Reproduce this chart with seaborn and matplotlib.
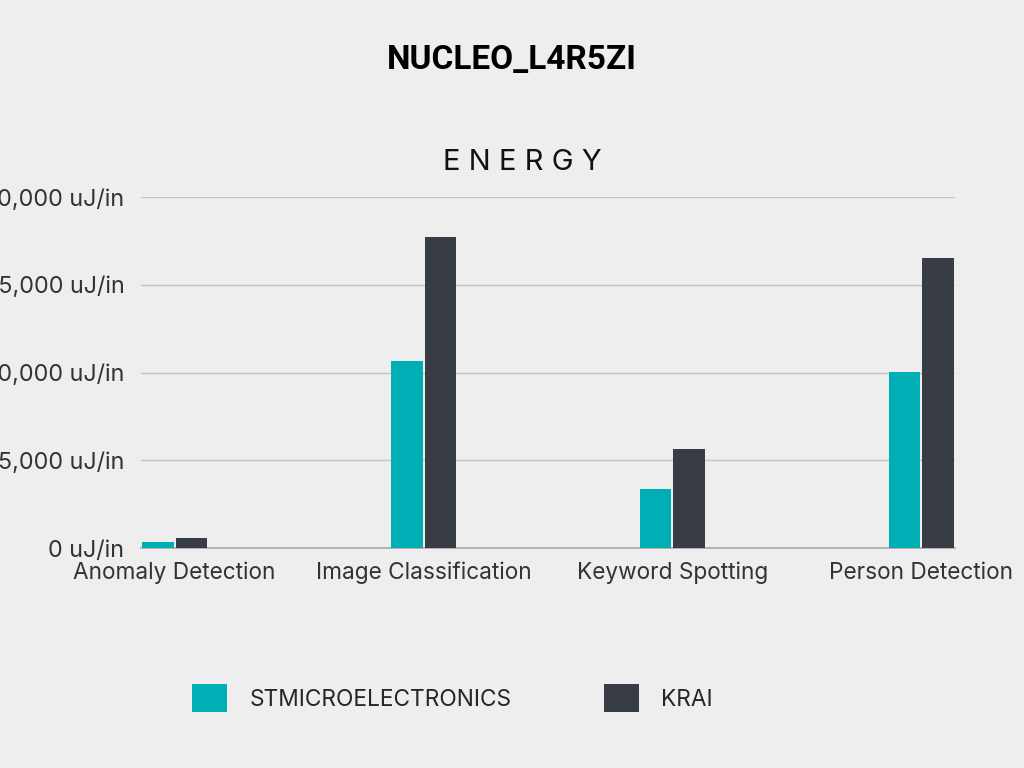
import matplotlib
matplotlib.use("Agg")
import matplotlib.pyplot as plt
import matplotlib.ticker as mticker
import seaborn as sns
import pandas as pd

# Données (uJ/inférence)
categories = ["Anomaly Detection", "Image Classification", "Keyword Spotting", "Person Detection"]
stm_values = [340, 10650, 3360, 10050]
krai_values = [550, 17740, 5620, 16510]
series_names = ["STMICROELECTRONICS", "KRAI"]
colors = ["#00AFB5", "#383C45"]

df = pd.DataFrame({
    "task": categories * 2,
    "energy": stm_values + krai_values,
    "vendor": [series_names[0]] * 4 + [series_names[1]] * 4,
})

sns.set_style("white")
plt.rcParams["font.family"] = ["Inter", "DejaVu Sans"]
bg = "#EEEEEE"

fig = plt.figure(figsize=(10.24, 7.68), dpi=100, facecolor=bg)
ax = fig.add_axes([141 / 1024, 1 - 548 / 768, 814 / 1024, 351 / 768])
ax.set_facecolor(bg)

sns.barplot(data=df, x="task", y="energy", hue="vendor", palette=colors,
            saturation=1, width=0.27, gap=0.06, ax=ax, zorder=3,
            edgecolor="none", linewidth=0)

ax.set_xlim(-0.135, 3.135)
ax.set_ylim(0, 20000)
ax.set_yticks([0, 5000, 10000, 15000, 20000])
ax.yaxis.set_major_formatter(mticker.FuncFormatter(lambda v, p: f"{v:,.0f} uJ/in"))
ax.grid(axis="y", color="#C4C4C4", linewidth=1, zorder=0)
ax.set_axisbelow(True)
for s in ["top", "right", "left"]:
    ax.spines[s].set_visible(False)
ax.spines["bottom"].set_color("#A8A8A8")
ax.spines["bottom"].set_linewidth(1.2)
ax.tick_params(axis="y", length=0, pad=12, labelsize=16.8, labelcolor="#333333")
ax.tick_params(axis="x", length=0, pad=10, labelsize=16.3, labelcolor="#333333")
ax.set_xlabel("")
ax.set_ylabel("")

# Légende en bas
sns.move_legend(ax, "center", bbox_to_anchor=(0.442, 0.091), bbox_transform=fig.transFigure,
                ncol=2, frameon=False, title=None, fontsize=16.3,
                handlelength=1.55, handleheight=1.55, handletextpad=0.97, columnspacing=4.1)

fig.text(0.5, 1 - 60 / 768, "NUCLEO_L4R5ZI", ha="center", va="center",
         fontsize=24, fontweight="bold", family=["Roboto", "DejaVu Sans"], color="black")
fig.text(0.51, 1 - 162 / 768, "E N E R G Y", ha="center", va="center",
         fontsize=21, color="#111111")

fig.savefig("out.png", dpi=100, facecolor=bg)
